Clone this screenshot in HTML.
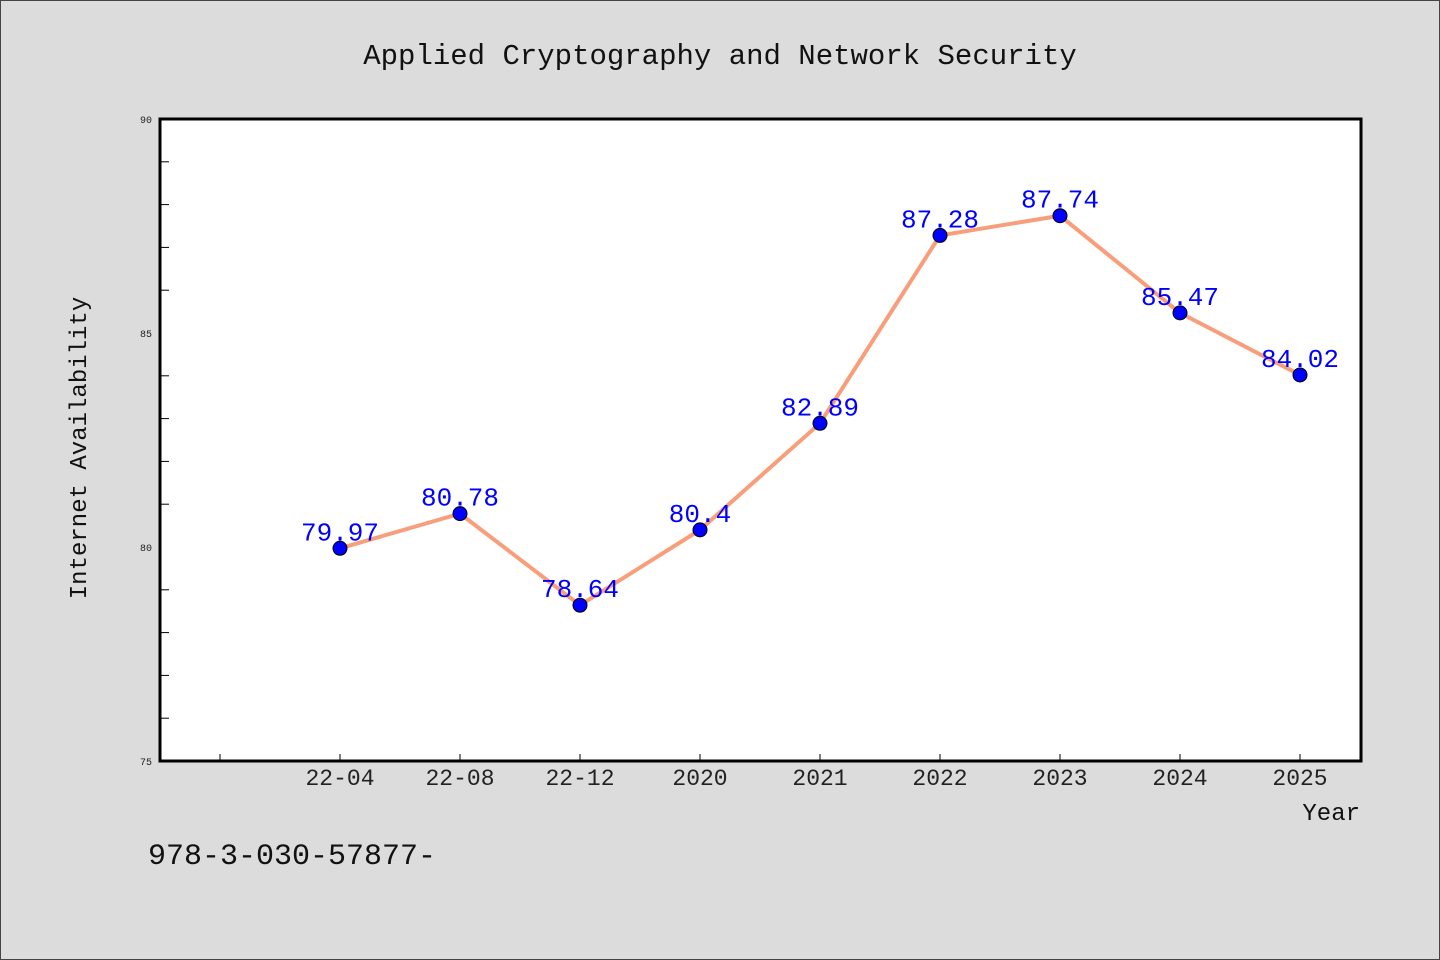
<!DOCTYPE html>
<html><head><meta charset="utf-8"><style>
html,body{margin:0;padding:0;background:#dcdcdc;}
svg{display:block;font-family:"Liberation Mono","WenQuanYi Zen Hei",monospace;}
</style></head><body>
<svg width="1440" height="960" xmlns="http://www.w3.org/2000/svg">
<rect x="0.5" y="0.5" width="1439" height="959" fill="#dcdcdc" stroke="#444" stroke-width="1"/>
<text x="720" y="64" font-size="29" text-anchor="middle" fill="#111">Applied Cryptography and Network Security</text>
<rect x="160" y="119" width="1201" height="642" fill="#fff"/>
<g id="axes"></g>
<g id="marks"></g>
<rect x="160" y="119" width="1201" height="642" fill="none" stroke="#000" stroke-width="3"/>
<text x="86" y="448" font-size="24" text-anchor="middle" fill="#111" transform="rotate(-90 86 448)">Internet Availability</text>
<text x="1360" y="820" font-size="24" text-anchor="end" fill="#111">Year</text>
<text x="148" y="864" font-size="30" fill="#111">978-3-030-57877-</text>
</svg>
<script>
const categories = ["", "22-04", "22-08", "22-12", "2020", "2021", "2022", "2023", "2024", "2025"];
const values = [null, 79.97, 80.78, 78.64, 80.4, 82.89, 87.28, 87.74, 85.47, 84.02];
const labels = [null, "79.97", "80.78", "78.64", "80.4", "82.89", "87.28", "87.74", "85.47", "84.02"];
const yTicks = [75, 80, 85, 90];
const yMinor = [76, 77, 78, 79, 81, 82, 83, 84, 86, 87, 88, 89];

const NS = "http://www.w3.org/2000/svg";
const yMin = 75, yMax = 90, plotTop = 119, plotBot = 761;
function yScale(v){ return plotBot - (v - yMin) / (yMax - yMin) * (plotBot - plotTop); }
function xScale(i){ return 220 + i * 120; }
function mk(tag, attrs, parent){ const e = document.createElementNS(NS, tag); for (const k in attrs) e.setAttribute(k, attrs[k]); parent.appendChild(e); return e; }
const axesG = document.getElementById("axes"), marksG = document.getElementById("marks");

yTicks.forEach(t => {
  const tx = mk("text", {x: 152, y: yScale(t) + 4, "font-size": 10, "text-anchor": "end", fill: "#222"}, axesG);
  tx.textContent = t;
  
  
});
yMinor.forEach(t => {
  const l = mk("line", {x1: 160, x2: 169, y1: yScale(t), y2: yScale(t), stroke: "#000", "stroke-width": 1}, axesG);
  
  
});
categories.forEach((c, i) => {
  const l = mk("line", {x1: xScale(i), x2: xScale(i), y1: 761, y2: 754, stroke: "#000", "stroke-width": 1}, axesG);
  
  
  const tx = mk("text", {x: xScale(i), y: 785, "font-size": 23, "text-anchor": "middle", fill: "#222"}, axesG);
  tx.textContent = c;
  
  
});
const pts = [];
values.forEach((v, i) => { if (v !== null) pts.push([xScale(i), yScale(v)]); });
const line = mk("polyline", {points: pts.map(p => p.join(",")).join(" "), fill: "none", stroke: "#f89e7b", "stroke-width": 4, "stroke-linejoin": "round"}, marksG);


values.forEach((v, i) => {
  if (v === null) return;
  const c = mk("circle", {cx: xScale(i), cy: yScale(v), r: 7, fill: "#0000ff", stroke: "#000", "stroke-width": 1}, marksG);
  
  
  const t = mk("text", {x: xScale(i), y: yScale(v) - 8, "font-size": 26, "text-anchor": "middle", fill: "#0000ff"}, marksG);
  t.textContent = labels[i];
  
  
});
</script>
</body></html>
